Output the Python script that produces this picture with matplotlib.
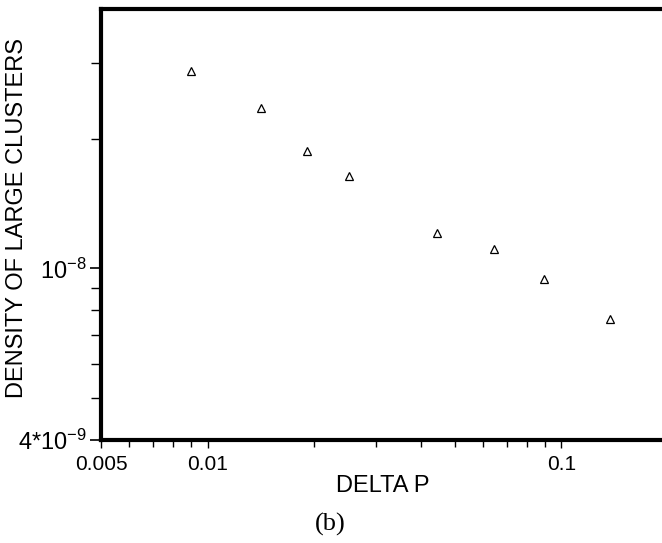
import matplotlib
matplotlib.use("Agg")
import matplotlib.pyplot as plt
from matplotlib.ticker import FixedLocator, NullFormatter

plt.rcParams['font.family'] = ['Liberation Sans', 'DejaVu Sans']
plt.rcParams['mathtext.fontset'] = 'custom'
plt.rcParams['mathtext.rm'] = 'Liberation Sans'
plt.rcParams['mathtext.it'] = 'Liberation Sans'

delta_p = [0.0090, 0.0142, 0.0191, 0.0251, 0.0445, 0.0644, 0.0892, 0.137]
density = [2.87e-8, 2.36e-8, 1.87e-8, 1.64e-8, 1.21e-8, 1.11e-8, 9.47e-9, 7.63e-9]

x_ticks = [0.005, 0.01, 0.1]
x_labels = ["0.005", "0.01", "0.1"]
x_minor = [0.006, 0.007, 0.008, 0.009, 0.02, 0.03, 0.04, 0.05, 0.06, 0.07, 0.08, 0.09]
y_ticks = [4e-9, 1e-8]
y_labels = [r"4*10$^{-9}$", r"10$^{-8}$"]
y_minor = [5e-9, 6e-9, 7e-9, 8e-9, 9e-9, 2e-8, 3e-8]

fig = plt.figure(figsize=(6.62, 5.43), dpi=100)
ax = fig.add_axes([101 / 662, 103 / 543, 567 / 662, 431 / 543])

ax.plot(delta_p, density, linestyle="none", marker="^", markersize=6,
        markerfacecolor="white", markeredgecolor="black", markeredgewidth=0.9)

ax.set_xscale("log")
ax.set_yscale("log")
ax.set_xlim(0.005, 0.2)
ax.set_ylim(4e-9, 4e-8)

ax.xaxis.set_major_locator(FixedLocator(x_ticks))
ax.set_xticklabels(x_labels)
ax.xaxis.set_minor_locator(FixedLocator(x_minor))
ax.xaxis.set_minor_formatter(NullFormatter())
ax.yaxis.set_major_locator(FixedLocator(y_ticks))
ax.set_yticklabels(y_labels)
ax.yaxis.set_minor_locator(FixedLocator(y_minor))
ax.yaxis.set_minor_formatter(NullFormatter())

ax.tick_params(axis="x", which="major", direction="out", length=6, width=1,
               labelsize=15, pad=5)
ax.tick_params(axis="x", which="minor", direction="out", length=5, width=1)
ax.tick_params(axis="y", which="major", direction="out", length=8, width=1.2,
               labelsize=17, pad=2)
ax.tick_params(axis="y", which="minor", direction="out", length=7, width=1)

for s in ("left", "bottom", "top", "right"):
    ax.spines[s].set_linewidth(3)

fig.text(17 / 662, 1 - 218 / 543, "DENSITY OF LARGE CLUSTERS", rotation=90,
         ha="center", va="center", fontsize=17)
fig.text(383 / 662, 1 - 486 / 543, "DELTA P", ha="center", va="center", fontsize=17)
fig.text(330 / 662, 1 - 524 / 543, "(b)", ha="center", va="center", fontsize=19,
         family=["Liberation Serif", "DejaVu Serif"])

fig.savefig("out.png", dpi=100, facecolor="white")
